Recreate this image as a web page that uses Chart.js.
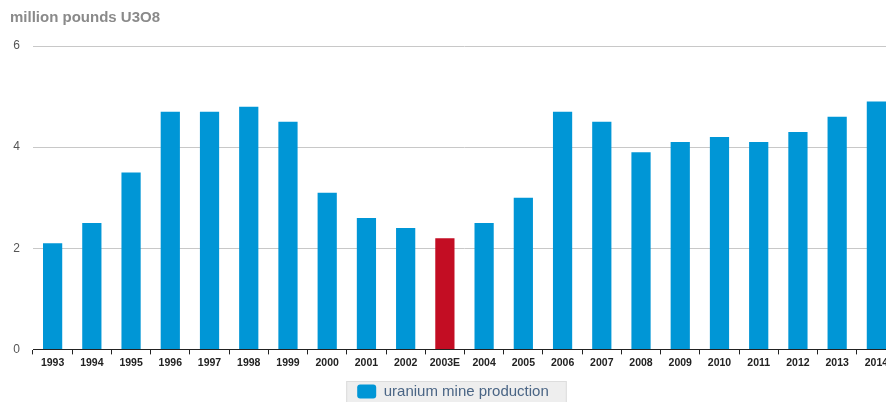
<!DOCTYPE html>
<html>
<head>
<meta charset="utf-8">
<script src="https://cdn.jsdelivr.net/npm/chart.js@4"></script>
<style>
  html, body { margin: 0; padding: 0; background: #fff; overflow: hidden; }
  #wrap { position: relative; width: 896px; height: 402px; }
</style>
</head>
<body>
<div id="wrap"><canvas id="myChart"></canvas></div>
<script>
const years = ['1993','1994','1995','1996','1997','1998','1999','2000','2001','2002','2003E',
  '2004','2005','2006','2007','2008','2009','2010','2011','2012','2013','2014'];
const production = [2.1, 2.5, 3.5, 4.7, 4.7, 4.8, 4.5, 3.1, 2.6, 2.4, 2.2,
  2.5, 3.0, 4.7, 4.5, 3.9, 4.1, 4.2, 4.1, 4.3, 4.6, 4.9];
const yTicks = [0, 2, 4, 6];

const blue = '#0096d6';
const red = '#c30d23';
const barColors = years.map(y => y.endsWith('E') ? red : blue);

const shiftX = 1, shiftY = 7;

// nudge legend a bit and put a grey box behind it
const legendBox = {
  id: 'legendBox',
  afterLayout(chart) {
    const lg = chart.legend;
    if (!lg) return;
    lg.left += shiftX * 2;
    lg.top += shiftY;
    lg.bottom += shiftY;
    chart.titleBlock.left += 2;
  },
  beforeDraw(chart) {
    const lg = chart.legend;
    if (!lg || !lg.legendHitBoxes.length) return;
    const hb = lg.legendHitBoxes[0];
    const x = hb.left + shiftX - 12;
    const y = hb.top + shiftY - 10;
    const ctx = chart.ctx;
    ctx.save();
    ctx.fillStyle = '#eeeeee';
    ctx.strokeStyle = '#dddddd';
    ctx.fillRect(x, y, hb.width + 29, 60);
    ctx.strokeRect(x + 0.5, y + 0.5, hb.width + 28, 60);
    ctx.restore();
  }
};

let div = document.querySelector('#myChart');
const data = {
  labels: years,
  datasets: [
    {
      label: 'uranium mine production',
      data: production,
      backgroundColor: barColors,
      borderWidth: 0,
      barPercentage: 0.49,
      categoryPercentage: 1.0
    }
  ]
};

const config = {
  type: 'bar',
  data: data,
  plugins: [legendBox],
  options: {
    responsive: true,
    maintainAspectRatio: false,
    animation: false,
    layout: { padding: { left: 8, right: 0, top: 4, bottom: 0 } },
    plugins: {
      title: {
        display: true,
        text: 'million pounds U3O8',
        align: 'start',
        color: '#8a8a8a',
        font: { family: 'Liberation Sans, Arial', size: 15, weight: 'bold' },
        padding: { top: 5, bottom: 19 }
      },
      legend: {
        position: 'bottom',
        labels: {
          color: '#4a6585',
          font: { family: 'Liberation Sans, Arial', size: 15 },
          boxWidth: 19,
          boxHeight: 14,
          useBorderRadius: true,
          borderRadius: 3,
          padding: 6
        }
      },
      tooltip: { enabled: false }
    },
    scales: {
      y: {
        min: 0,
        max: 6,
        afterFit: s => { s.width = 25; },
        afterBuildTicks: s => { s.ticks = yTicks.map(v => ({ value: v })); },
        border: { display: false },
        grid: { color: '#c8c8c8', drawTicks: false },
        ticks: {
          color: '#555',
          padding: 13,
          font: { family: 'Liberation Sans, Arial', size: 12 }
        }
      },
      x: {
        border: { display: true, color: '#222', width: 1 },
        grid: { drawOnChartArea: false, drawTicks: true, tickLength: 5, color: '#222' },
        ticks: {
          color: '#222',
          padding: 2,
          maxRotation: 0,
          autoSkip: false,
          font: { family: 'Liberation Sans, Arial', size: 10.5, weight: 'bold' }
        }
      }
    }
  }
};

const mychart = new Chart(div, config);
</script>
</body>
</html>
